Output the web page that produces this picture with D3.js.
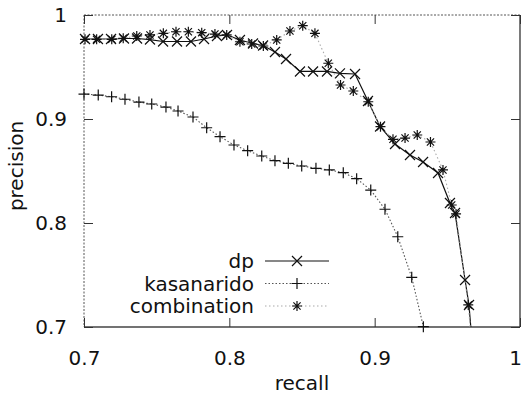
<!DOCTYPE html>
<html>
<head>
<meta charset="utf-8">
<script src="https://cdn.jsdelivr.net/npm/d3@7"></script>
<style>
body { margin: 0; background: #fff; }
text { font-family: "DejaVu Sans", sans-serif; font-size: 20px; fill: #111; }
</style>
</head>
<body>
<script>
// values
var seriesNames = ["dp", "kasanarido", "combination"];
var xTicks = [0.7, 0.8, 0.9, 1];
var yTicks = [0.7, 0.8, 0.9, 1];

var dpRecall = [0.7007, 0.7096, 0.7186, 0.7275, 0.7365, 0.7454, 0.7544, 0.7640, 0.7736, 0.7826,
	0.7915, 0.7984, 0.8073, 0.8163, 0.8232, 0.8314, 0.8390, 0.8486, 0.8576, 0.8672,
	0.8761, 0.8865, 0.8954, 0.9037, 0.9140, 0.9243, 0.9333, 0.9436, 0.9518, 0.9553,
	0.9622, 0.9649, 0.9663];
var dpPrecision = [0.9769, 0.9769, 0.9769, 0.9774, 0.9774, 0.9764, 0.9745, 0.9745, 0.9745, 0.9769,
	0.9798, 0.9808, 0.9760, 0.9726, 0.9707, 0.9644, 0.9577, 0.9457, 0.9457, 0.9457,
	0.9438, 0.9433, 0.9173, 0.8928, 0.8760, 0.8654, 0.8587, 0.8481, 0.8192, 0.8096,
	0.7452, 0.7212, 0.6971];

var kasRecall = [0.7000, 0.7098, 0.7190, 0.7282, 0.7378, 0.7466, 0.7564, 0.7647, 0.7750, 0.7844,
	0.7936, 0.8032, 0.8126, 0.8223, 0.8314, 0.8406, 0.8498, 0.8596, 0.8688, 0.8784,
	0.8876, 0.8973, 0.9071, 0.9159, 0.9255, 0.9335];
var kasPrecision = [0.9240, 0.9230, 0.9214, 0.9190, 0.9163, 0.9144, 0.9115, 0.9077, 0.9019, 0.8916,
	0.8830, 0.8750, 0.8695, 0.8644, 0.8599, 0.8574, 0.8548, 0.8526, 0.8510, 0.8484,
	0.8426, 0.8317, 0.8132, 0.7868, 0.7478, 0.7003];

var combRecall = [0.7007, 0.7087, 0.7191, 0.7270, 0.7363, 0.7454, 0.7546, 0.7633, 0.7718, 0.7810,
	0.7901, 0.7982, 0.8073, 0.8154, 0.8234, 0.8326, 0.8417, 0.8505, 0.8589, 0.8681,
	0.8765, 0.8853, 0.8956, 0.9040, 0.9126, 0.9209, 0.9293, 0.9384, 0.9470, 0.9530,
	0.9560, 0.9644, 0.9659];
var combPrecision = [0.9766, 0.9766, 0.9766, 0.9776, 0.9798, 0.9808, 0.9824, 0.9839, 0.9839, 0.9830,
	0.9817, 0.9808, 0.9743, 0.9721, 0.9702, 0.9760, 0.9846, 0.9897, 0.9824, 0.9536,
	0.9327, 0.9269, 0.9166, 0.8926, 0.8805, 0.8817, 0.8846, 0.8779, 0.8510, 0.8173,
	0.8087, 0.7212, 0.6971];

var svgWidth = 525;
var svgHeight = 395;
var margin = {top: 15, right: 5, bottom: 68, left: 84};
var width = svgWidth - margin.left - margin.right;
var height = svgHeight - margin.top - margin.bottom;

var x = d3.scaleLinear().domain([0.7, 1]).range([0, width]);
var y = d3.scaleLinear().domain([0.7, 1]).range([height, 0]);

function zip(rs, ps) {
	return rs.map((r, i) => { return {r: r, p: ps[i]}; });
}

var series = [
	{name: seriesNames[0], data: zip(dpRecall, dpPrecision), marker: "x",
		stroke: "#111", dash: null, width: 1.2},
	{name: seriesNames[1], data: zip(kasRecall, kasPrecision), marker: "plus",
		stroke: "#555", dash: "1.5,2", width: 1.1},
	{name: seriesNames[2], data: zip(combRecall, combPrecision), marker: "star",
		stroke: "#aaa", dash: "1.5,2.5", width: 1.1}
];

// gnuplot-like point shapes
function markerPath(type) {
	var s = 5;
	var d = 5.5;
	if (type == "x") return "M" + (-s) + "," + (-s) + "L" + s + "," + s + "M" + (-s) + "," + s + "L" + s + "," + (-s);
	if (type == "plus") return "M" + (-d) + ",0L" + d + ",0M0," + (-d) + "L0," + d;
	return "M" + (-s) + ",0L" + s + ",0M0," + (-s) + "L0," + s +
		"M-3.6,-3.6L3.6,3.6M-3.6,3.6L3.6,-3.6";
}

var svg = d3.select("body")
	.append("svg")
		.attr("width", svgWidth)
		.attr("height", svgHeight);

var g = svg.append("g")
	.attr("transform", "translate(" + margin.left + ", " + margin.top + ")");

g.append("clipPath")
	.attr("id", "plotclip")
	.append("rect")
		.attr("width", width)
		.attr("height", height);

// frame (top and left came out faint / dotted in the scan)
g.append("line").attr("x1", 0).attr("x2", width).attr("y1", 0).attr("y2", 0)
	.attr("stroke", "#555").attr("stroke-dasharray", "2,1.5");
g.append("line").attr("x1", 0).attr("x2", 0).attr("y1", 0).attr("y2", height)
	.attr("stroke", "#555").attr("stroke-dasharray", "2,1.5");
g.append("line").attr("x1", 0).attr("x2", width).attr("y1", height).attr("y2", height)
	.attr("stroke", "#444").attr("stroke-width", 1.3);
g.append("line").attr("x1", width).attr("x2", width).attr("y1", 0).attr("y2", height)
	.attr("stroke", "#333").attr("stroke-width", 1.3);

// axes with inward ticks, mirrored on top and right
var bottomAxis = d3.axisBottom(x).tickValues(xTicks).tickSize(-9).tickPadding(20)
	.tickFormat((d) => { return d == 1 ? "1" : d3.format(".1f")(d); });
g.append("g")
	.attr("class", "bottom axis")
	.attr("transform", "translate(0, " + height + ")")
	.call(bottomAxis);

var topAxis = d3.axisTop(x).tickValues(xTicks).tickSize(-9).tickFormat("");
g.append("g").attr("class", "top axis").call(topAxis);

var leftAxis = d3.axisLeft(y).tickValues(yTicks).tickSize(-9).tickPadding(17)
	.tickFormat((d) => { return d == 1 ? "1" : d3.format(".1f")(d); });
g.append("g").attr("class", "left axis").call(leftAxis);

var rightAxis = d3.axisRight(y).tickValues(yTicks).tickSize(-9).tickFormat("");
g.append("g")
	.attr("class", "right axis")
	.attr("transform", "translate(" + width + ", 0)")
	.call(rightAxis);

g.selectAll(".axis .domain").remove();
g.selectAll(".axis line").attr("stroke", "#333");
g.selectAll(".axis text")
	.attr("font-family", "DejaVu Sans, sans-serif")
	.attr("font-size", "20px")
	.attr("fill", "#111");
g.selectAll(".bottom.axis text").attr("dy", "0.9em");
// last x label sits on the window edge, nudge it in
g.selectAll(".bottom.axis text").filter((d) => { return d == 1; }).attr("dx", -5);

var line = d3.line()
	.x((d) => { return x(d.r); })
	.y((d) => { return y(d.p); });

var plot = g.append("g").attr("clip-path", "url(#plotclip)");

series.forEach((s) => {
	plot.append("path")
		.datum(s.data)
		.attr("fill", "none")
		.attr("stroke", s.stroke)
		.attr("stroke-width", s.width)
		.attr("stroke-dasharray", s.dash)
		.attr("d", line);
});

series.forEach((s) => {
	g.append("g").selectAll("path")
		.data(s.data.filter((d) => { return d.p >= 0.7; }))
		.enter()
		.append("path")
		.attr("transform", (d) => { return "translate(" + x(d.r) + "," + y(d.p) + ")"; })
		.attr("d", markerPath(s.marker))
		.attr("fill", "none")
		.attr("stroke", "#111")
		.attr("stroke-width", 1.2);
});

// legend
var legend = g.append("g")
	.attr("transform", "translate(" + (254 - margin.left) + ", " + (261 - margin.top) + ")");

series.forEach((s, i) => {
	var row = legend.append("g").attr("transform", "translate(0, " + (i * 22.5) + ")");
	row.append("text")
		.attr("x", 0)
		.attr("y", 7)
		.attr("text-anchor", "end")
		.text(s.name);
	row.append("line")
		.attr("x1", 11).attr("x2", 75)
		.attr("y1", 0).attr("y2", 0)
		.attr("stroke", s.stroke)
		.attr("stroke-width", s.width)
		.attr("stroke-dasharray", s.dash);
	row.append("path")
		.attr("transform", "translate(43, 0)")
		.attr("d", markerPath(s.marker))
		.attr("fill", "none")
		.attr("stroke", "#111")
		.attr("stroke-width", 1.2);
});

// axis labels
g.append("text")
	.attr("class", "x axis-label")
	.attr("x", width / 2)
	.attr("y", height + 63)
	.attr("text-anchor", "middle")
	.text("recall");

g.append("text")
	.attr("class", "y axis-label")
	.attr("x", -(height / 2) + 5)
	.attr("y", -61)
	.attr("text-anchor", "middle")
	.attr("transform", "rotate(-90)")
	.text("precision");
</script>
</body>
</html>
